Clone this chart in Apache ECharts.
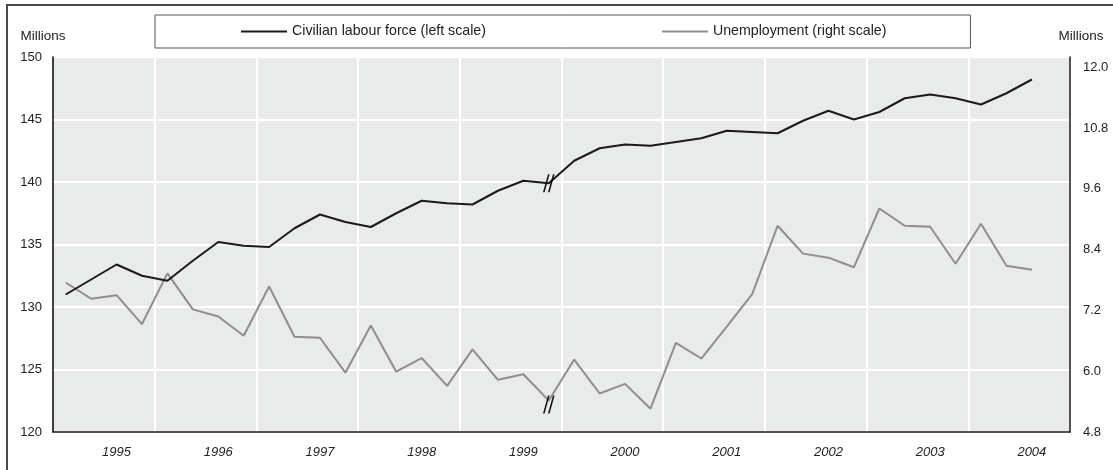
<!DOCTYPE html>
<html>
<head>
<meta charset="utf-8">
<script src="https://cdn.jsdelivr.net/npm/echarts@6/dist/echarts.min.js"></script>
<style>
  html, body { margin: 0; padding: 0; background: #ffffff; }
  #wrap { position: relative; width: 1113px; height: 470px; overflow: hidden; }
  #frame { position: absolute; left: 6px; top: 4px; width: 1300px; height: 600px;
           border-top: 2px solid #4a4a4a; border-left: 2px solid #4a4a4a; box-sizing: border-box; }
  #chart { position: absolute; left: 0; top: 0; width: 1113px; height: 470px; }
</style>
</head>
<body>
<div id="wrap">
  <div id="frame"></div>
  <div id="chart"></div>
</div>
<script>
// ---- data ----
var years = ['1995','1996','1997','1998','1999','2000','2001','2002','2003','2004'];
var quarters = ['Q1','Q2','Q3','Q4'];
var seriesNames = ['Civilian labour force (left scale)', 'Unemployment (right scale)'];
// Civilian labour force, millions (1995 Q1 – 2004 Q3)
var labourForce = [
  131.0, 132.2, 133.4, 132.5,
  132.1, 133.7, 135.2, 134.9,
  134.8, 136.3, 137.4, 136.8,
  136.4, 137.5, 138.5, 138.3,
  138.2, 139.3, 140.1, 139.9,
  141.7, 142.7, 143.0, 142.9,
  143.2, 143.5, 144.1, 144.0,
  143.9, 144.9, 145.7, 145.0,
  145.6, 146.7, 147.0, 146.7,
  146.2, 147.1, 148.2
];
// Unemployment, millions (1995 Q1 – 2004 Q3)
var unemployment = [
  7.75, 7.43, 7.50, 6.93,
  7.93, 7.22, 7.08, 6.70,
  7.67, 6.68, 6.66, 5.97,
  6.90, 5.99, 6.26, 5.71,
  6.43, 5.83, 5.94, 5.42,
  6.23, 5.56, 5.75, 5.26,
  6.56, 6.25, 6.88, 7.52,
  8.87, 8.32, 8.24, 8.05,
  9.21, 8.87, 8.85, 8.12,
  8.91, 8.08, 8.00
];
var breakIndex = 19; // series break after 1999 Q4
var leftTicks = { min: 120, max: 150, interval: 5 };
var rightTicks = { min: 4.8, max: 12.2, interval: 1.2 };

// ---- build ----
var categories = [];
years.forEach(function (y) { quarters.forEach(function (q) { categories.push(y + ' ' + q); }); });

var FONT = '"Liberation Sans", Arial, Helvetica, sans-serif';
var breakSymbol = 'path://M0,18 L1.6,18 L6.6,0 L5,0 Z M5,18 L6.6,18 L11.6,0 L10,0 Z';

var chart = echarts.init(document.getElementById('chart'), null, { renderer: 'canvas' });
chart.setOption({
  animation: false,
  backgroundColor: 'transparent',
  textStyle: { fontFamily: FONT },
  legend: {
    left: 155, top: 15,
    padding: [8, 84, 8, 86],
    borderColor: '#555', borderWidth: 1,
    backgroundColor: '#fff',
    icon: 'rect',
    itemWidth: 46, itemHeight: 2.2, itemGap: 176,
    textStyle: { fontFamily: FONT, fontSize: 14.2, color: '#222', lineHeight: 17 },
    data: seriesNames
  },
  grid: {
    left: 53, right: 43, top: 57, bottom: 38,
    show: true, backgroundColor: '#e9eaea', borderColor: '#777', borderWidth: 1,
    containLabel: false
  },
  xAxis: {
    type: 'category',
    data: categories,
    boundaryGap: true,
    axisLine: { show: true, lineStyle: { color: '#1a1a1a', width: 1.5 } },
    axisTick: { show: false },
    axisLabel: {
      interval: function (i) { return i % 4 === 2; },
      formatter: function (v) { return v.slice(0, 4); },
      fontStyle: 'italic', fontSize: 13, color: '#222', fontFamily: FONT, margin: 14
    },
    splitLine: {
      show: true,
      interval: function (i) { return i % 4 === 0 && i > 0; },
      lineStyle: { color: '#ffffff', width: 2 }
    }
  },
  yAxis: [
    {
      type: 'value', position: 'left',
      min: leftTicks.min, max: leftTicks.max, interval: leftTicks.interval,
      name: 'Millions', nameLocation: 'end', nameGap: 14,
      nameTextStyle: { fontSize: 13.5, color: '#222', fontFamily: FONT, padding: [0, 20, 0, 0] },
      axisLine: { show: true, lineStyle: { color: '#1a1a1a', width: 1.5 } },
      axisTick: { show: false },
      axisLabel: { fontSize: 13, color: '#222', fontFamily: FONT, margin: 11 },
      splitLine: { show: true, lineStyle: { color: '#ffffff', width: 2 } }
    },
    {
      type: 'value', position: 'right',
      min: rightTicks.min, max: rightTicks.max, interval: rightTicks.interval,
      name: 'Millions', nameLocation: 'end', nameGap: 14,
      nameTextStyle: { fontSize: 13.5, color: '#222', fontFamily: FONT, padding: [0, 0, 0, 22] },
      axisLine: { show: true, lineStyle: { color: '#1a1a1a', width: 1.5 } },
      axisTick: { show: false },
      axisLabel: {
        fontSize: 13, color: '#222', fontFamily: FONT, margin: 13,
        showMaxLabel: false,
        formatter: function (v) { return v.toFixed(1); }
      },
      splitLine: { show: false }
    }
  ],
  series: [
    {
      name: seriesNames[0], type: 'line', yAxisIndex: 0,
      data: labourForce, symbol: 'none', smooth: false,
      lineStyle: { color: '#1a1a1a', width: 2 }, itemStyle: { color: '#1a1a1a' },
      z: 3,
      markPoint: {
        silent: true,
        symbol: breakSymbol, symbolSize: [11.6, 18], symbolKeepAspect: false,
        itemStyle: { color: '#111' },
        label: { show: false },
        data: [{ coord: [categories[breakIndex], labourForce[breakIndex]] }]
      }
    },
    {
      name: seriesNames[1], type: 'line', yAxisIndex: 1,
      data: unemployment, symbol: 'none', smooth: false,
      lineStyle: { color: '#8e8e8e', width: 2 }, itemStyle: { color: '#8e8e8e' },
      z: 2,
      markPoint: {
        silent: true,
        symbol: breakSymbol, symbolSize: [11.6, 18], symbolKeepAspect: false,
        symbolOffset: [0, 4],
        itemStyle: { color: '#111' },
        label: { show: false },
        data: [{ coord: [categories[breakIndex], unemployment[breakIndex]] }]
      }
    }
  ]
});
</script>
</body>
</html>
